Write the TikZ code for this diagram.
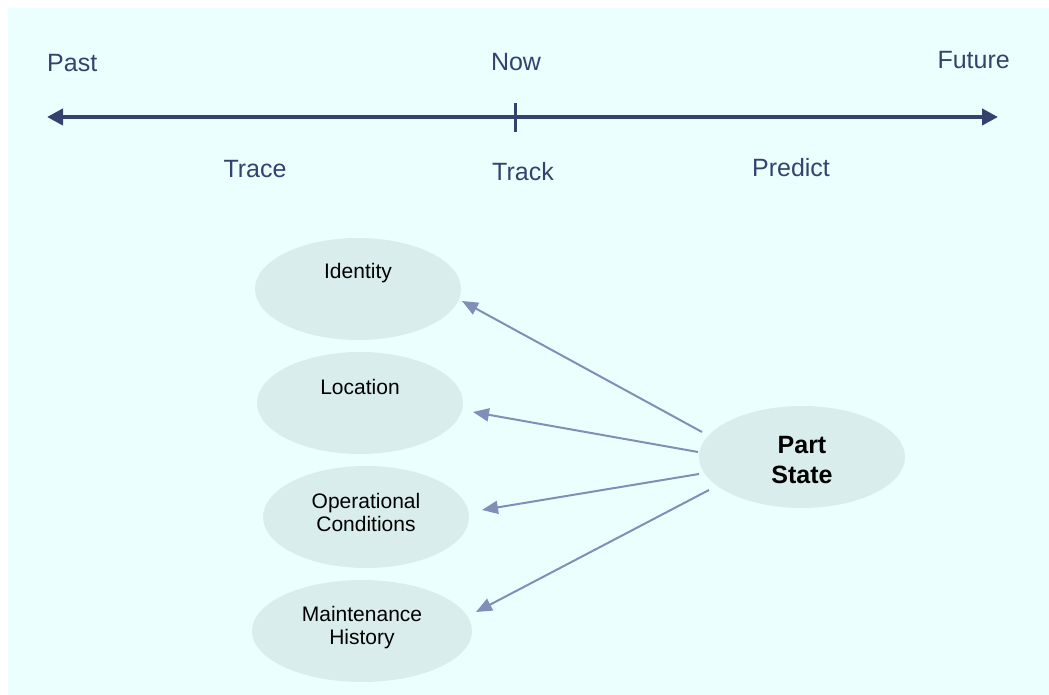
\documentclass[tikz,border=0pt]{standalone}
\usepackage{fontspec}
\setmainfont{Liberation Sans}
\usetikzlibrary{shapes.geometric,arrows.meta}
\definecolor{bg}{HTML}{EBFFFF}
\definecolor{ell}{HTML}{D9EDEC}
\definecolor{navy}{HTML}{34426E}
\definecolor{conn}{HTML}{7F8FB8}
\begin{document}
\begin{tikzpicture}[x=1pt,y=1pt,
  timelbl/.style={font=\fontsize{25}{30}\selectfont, text=navy, inner sep=0},
  oval/.style={ellipse, fill=ell, draw=none, inner sep=0, outer sep=0},
  ovaltxt/.style={font=\fontsize{21}{23}\selectfont, align=center, inner sep=0},
  connarrow/.style={draw=conn, line width=2pt, -{Triangle[length=16pt,width=13pt]}},
  timeline/.style={draw=navy, line width=4pt, {Triangle[length=16pt,width=16pt]}-{Triangle[length=16pt,width=16pt]}}]
\useasboundingbox (0,0) rectangle (1049,695);
\fill[bg] (8,0) rectangle (1049,687);

% timeline
\coordinate (tl) at (47,578);
\coordinate (tr) at (998,578);
\coordinate (tickt) at (515,592);
\coordinate (tickb) at (515,563);
\draw[timeline] (tl) -- (tr);
\draw[draw=navy, line width=3pt] (tickt) -- (tickb);

\node[timelbl, anchor=base west] (past) at (47,623) {Past};
\node[timelbl, anchor=base] (now) at (516,624) {Now};
\node[timelbl, anchor=base east] (future) at (1010,626) {Future};
\node[timelbl, anchor=base] (trace) at (255,517) {Trace};
\node[timelbl, anchor=base] (track) at (523,514) {Track};
\node[timelbl, anchor=base] (predict) at (791,518) {Predict};

% ovals
\node[oval, minimum width=206pt, minimum height=102pt] (id) at (358,406) {};
\node[oval, minimum width=206pt, minimum height=102pt] (loc) at (360,292) {};
\node[oval, minimum width=206pt, minimum height=102pt] (op) at (366,178) {};
\node[oval, minimum width=220pt, minimum height=102pt] (mh) at (362,64) {};
\node[oval, minimum width=206pt, minimum height=102pt] (ps) at (802,238) {};

\node[ovaltxt] (idt) at ([yshift=16pt]id.center) {Identity};
\node[ovaltxt] (loct) at ([yshift=16pt]loc.center) {Location};
\node[ovaltxt] (opt) at ([yshift=5pt]op.center) {Operational\\Conditions};
\node[ovaltxt] (mht) at ([yshift=3.5pt]mh.center) {Maintenance\\History};
\node[ovaltxt, font=\fontsize{25}{30}\selectfont\bfseries] (pst) at ([yshift=-3pt]ps.center) {Part\\State};

% connectors
\draw[connarrow] ([shift={(-100pt,25pt)}]ps.center) -- ([shift={(104pt,-12pt)}]id.center);
\draw[connarrow] ([shift={(-104pt,5pt)}]ps.center) -- ([shift={(113pt,-9pt)}]loc.center);
\draw[connarrow] ([shift={(-103pt,-17pt)}]ps.center) -- ([shift={(116pt,7pt)}]op.center);
\draw[connarrow] ([shift={(-93pt,-33pt)}]ps.center) -- ([shift={(114pt,19pt)}]mh.center);
\end{tikzpicture}
\end{document}
